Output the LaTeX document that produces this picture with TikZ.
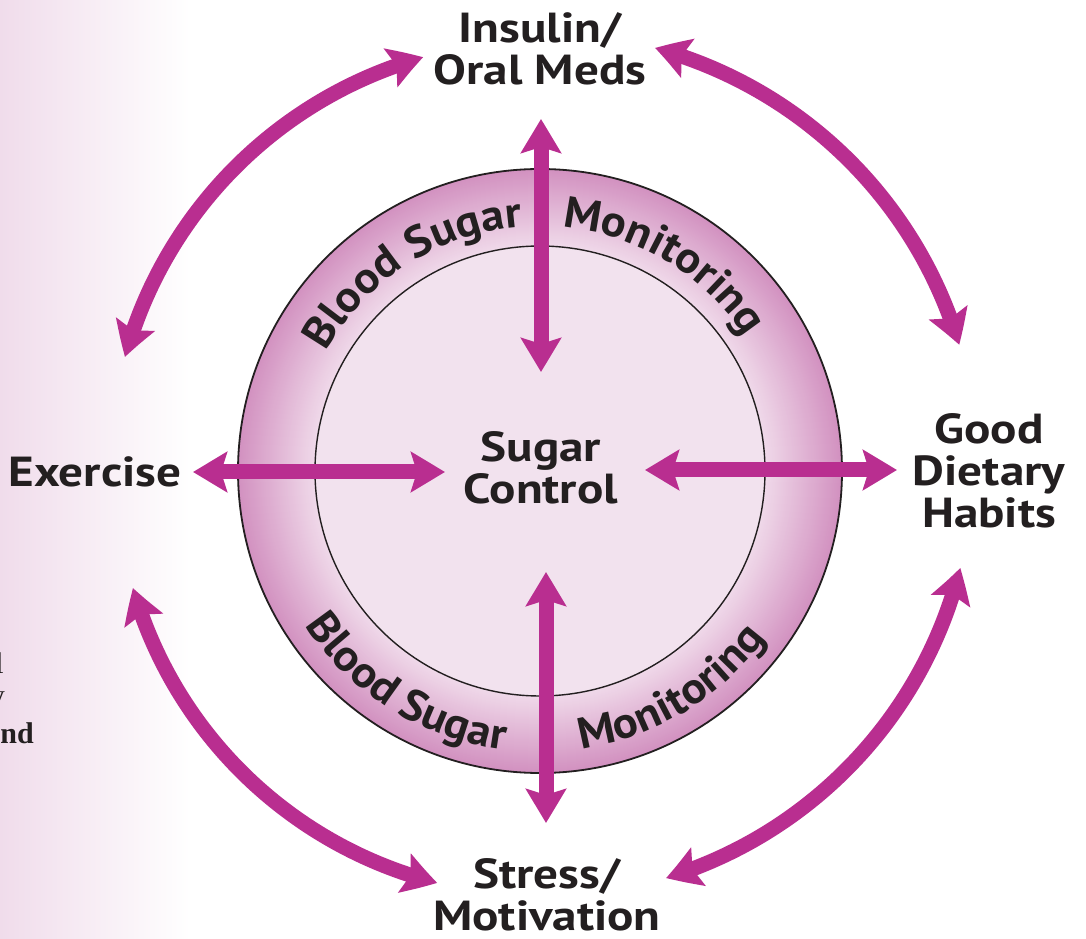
\documentclass[tikz,border=0pt]{standalone}
\usepackage{fontspec}
\newfontfamily\labfont{PT Sans}[FakeStretch=1.17]
\newfontfamily\ringfont{PT Sans}[FakeStretch=1.06]
\newfontfamily\serfont{Liberation Serif}
\usetikzlibrary{arrows.meta,bending,decorations.text}
\definecolor{mag}{RGB}{185,46,144}
\definecolor{ink}{RGB}{35,31,32}
\definecolor{ringout}{RGB}{210,145,192}
\definecolor{ringin}{RGB}{240,218,234}
\definecolor{disk}{RGB}{242,226,238}
\definecolor{sidepink}{RGB}{240,220,235}
\newcommand\ringf{\ringfont\bfseries\fontsize{44}{44}\selectfont}
\begin{document}
\begin{tikzpicture}[x=1pt,y=1pt,
  lab/.style={font=\labfont\bfseries\fontsize{42}{42}\selectfont, text=ink, align=center, inner sep=0pt},
  dbl/.style={line width=15pt, draw=mag, >={Stealth[length=34pt,width=40pt,inset=6pt]}, <->},
  curv/.style={line width=15pt, draw=mag, >={Stealth[length=34pt,width=40pt,inset=6pt,bend]}, <->},
  sidetext/.style={font=\serfont\fontsize{30}{30}\selectfont, text=ink, anchor=base east, inner sep=0pt},
  ringtext/.style={decorate, decoration={text along path, text color=ink, text align=center, text={|\ringf|#1}}}
]
\fill[white] (0,0) rectangle (1086,938);
\shade[left color=sidepink, right color=white] (0,0) rectangle (190,938);
\useasboundingbox (0,0) rectangle (1086,938);

\begin{scope}
\clip (0,0) rectangle (1086,938);
\node[sidetext] (s1) at (4,265) {l};
\node[sidetext] (s2) at (5,233) {y};
\node[sidetext, font=\serfont\bfseries\fontsize{30}{30}\selectfont] (s3) at (34,195) {nd};
\end{scope}

\coordinate (C) at (540,467);
% ring with gradient
\foreach \i in {0,...,77} {
  \pgfmathsetmacro\p{100*\i/77}
  \fill[ringin!\p!ringout] (C) circle ({302-\i});
}
\fill[disk] (C) circle (225);
\draw[ink, line width=1.8pt] (C) circle (302);
\draw[ink, line width=1.4pt] (C) circle (225);

% ring texts
\path[ringtext=Blood Sugar] ([shift={(162.5:245)}]C) arc[start angle=162.5, end angle=82.5, radius=245];
\path[ringtext=Monitoring] ([shift={(99:245)}]C) arc[start angle=99, end angle=19, radius=245];
\path[ringtext=Blood Sugar] ([shift={(198:281)}]C) arc[start angle=198, end angle=278, radius=281];
\path[ringtext=Monitoring] ([shift={(261:281)}]C) arc[start angle=261, end angle=341, radius=281];

% labels
\node[lab, anchor=base] (ins) at (540,853) {Insulin/\\Oral Meds};
\node[lab, anchor=base] (exe) at (95,451) {Exercise};
\node[lab, anchor=base] (sug) at (541,435) {Sugar\\Control};
\node[lab, anchor=base] (die) at (989,410) {Good\\Dietary\\Habits};
\node[lab, anchor=base] (str) at (547,8) {Stress/\\Motivation};

% straight arrows
\coordinate (vtA) at (541,819);
\coordinate (vtB) at (541,566);
\coordinate (vbA) at (546,366);
\coordinate (vbB) at (546,115);
\coordinate (hlA) at (193,466);
\coordinate (hlB) at (445,466);
\coordinate (hrA) at (645,468);
\coordinate (hrB) at (897,468);
\draw[dbl] (vtA) -- (vtB);
\draw[dbl] (vbA) -- (vbB);
\draw[dbl] (hlA) -- (hlB);
\draw[dbl] (hrA) -- (hrB);

% curved arrows
\coordinate (tlA) at (125,581);
\coordinate (trA) at (655,890);
\coordinate (blA) at (133,350);
\coordinate (brA) at (666,60);
\draw[curv] (tlA) arc[start angle=164.6, end angle=105.7, radius=430];
\draw[curv] (trA) arc[start angle=74.8, end angle=16.6, radius=437];
\draw[curv] (blA) arc[start angle=196, end angle=255.8, radius=425];
\draw[curv] (brA) arc[start angle=287, end angle=346, radius=434];
\end{tikzpicture}
\end{document}
